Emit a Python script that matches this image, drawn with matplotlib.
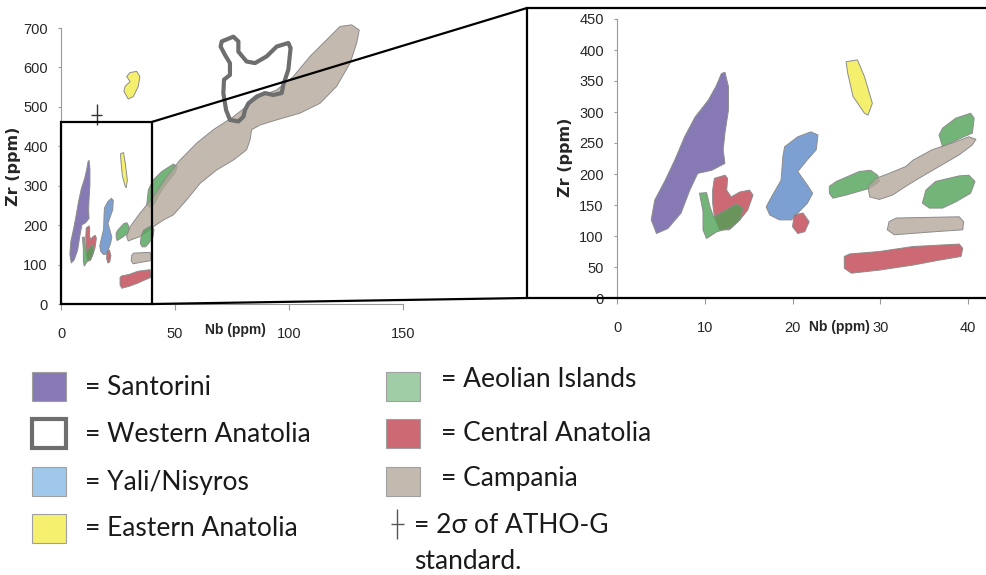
import matplotlib
matplotlib.use('Agg')
import matplotlib.pyplot as plt
from matplotlib.patches import Polygon, Rectangle, ConnectionPatch
from matplotlib.colors import to_rgba

# Outlines, as (Nb ppm, Zr ppm) vertices
santorini = [(4.5, 104), (3.9, 126), (4.3, 158), (5.5, 190), (6.6, 223), (7.7, 260),
             (8.9, 292), (10.4, 319), (11.3, 342), (11.9, 362), (12.3, 364), (12.7, 341),
             (12.7, 303), (12.3, 266), (12.1, 239), (12.3, 217), (10.8, 206), (9.2, 201),
             (8.3, 174), (7.3, 137), (5.8, 112)]
aeolian_a = [(9.4, 169), (10.2, 170), (10.6, 147), (11.0, 131), (13.6, 152), (14.4, 145),
             (14.0, 126), (13.0, 113), (11.4, 107), (10.2, 96), (9.8, 110), (9.8, 140)]
central_a = [(11.1, 193), (12.3, 198), (12.6, 193), (12.5, 174), (13.0, 163), (14.0, 171),
             (15.1, 174), (15.5, 166), (14.9, 142), (14.0, 126), (12.8, 110), (11.7, 110),
             (11.1, 131), (10.9, 153), (10.9, 174)]
yali = [(17.0, 147), (17.6, 163), (18.7, 190), (18.9, 228), (19.1, 244), (20.6, 260),
        (22.1, 268), (22.9, 263), (22.7, 239), (21.7, 223), (20.6, 204), (21.7, 182),
        (22.3, 169), (21.7, 153), (20.6, 137), (19.9, 126), (18.5, 126), (17.4, 134)]
central_b = [(20.2, 134), (21.2, 137), (21.9, 123), (21.4, 107), (20.6, 104), (20.0, 115)]
eastern_a = [(26.1, 381), (27.4, 384), (28.2, 357), (29.1, 314), (28.6, 295), (28.2, 298),
             (26.9, 325), (26.3, 362)]
aeolian_b = [(24.2, 180), (25.0, 188), (27.6, 204), (28.9, 206), (29.7, 198), (29.9, 188),
             (28.8, 177), (26.1, 166), (24.6, 161), (24.2, 169)]
aeolian_c = [(36.7, 263), (37.1, 274), (38.6, 290), (40.3, 298), (40.7, 290), (40.5, 266),
             (39.2, 258), (37.1, 244)]
aeolian_d = [(34.8, 153), (35.2, 174), (36.3, 188), (39.0, 197), (40.1, 198), (40.8, 188),
             (40.3, 169), (38.6, 155), (37.1, 145), (35.6, 145)]
campania_a = [(28.8, 163), (29.9, 159), (31.4, 166), (32.9, 180), (34.4, 193), (36.7, 212),
              (39.0, 231), (40.5, 247), (40.9, 256), (40.1, 260), (38.2, 250), (35.9, 239),
              (33.7, 222), (32.9, 212), (31.0, 201), (29.5, 193), (28.6, 180)]
campania_b = [(31.0, 123), (31.8, 129), (39.0, 131), (39.5, 123), (39.4, 110), (36.3, 107),
              (31.6, 102), (30.8, 110)]
central_c = [(25.9, 67), (26.5, 71), (29.9, 75), (33.7, 83), (39.0, 87), (39.4, 80),
             (39.2, 67), (36.7, 61), (33.7, 53), (29.9, 45), (26.7, 40), (25.9, 48)]

# overview-only outlines (0-150 ppm panel)
campania_wide = [(29.5, 160), (34.6, 171), (40.5, 196), (44.9, 213), (49.3, 226), (55.1, 264),
                 (61.0, 306), (68.3, 340), (75.6, 365), (81.4, 391), (82.9, 416), (83.6, 442),
                 (87.3, 454), (94.6, 467), (104.8, 484), (113.6, 509), (120.9, 552),
                 (126.8, 611), (129.7, 662), (130.8, 695), (127.5, 708), (122.4, 704),
                 (116.5, 670), (109.2, 628), (101.9, 577), (94.6, 543), (87.3, 526),
                 (81.4, 501), (75.6, 475), (66.8, 442), (59.5, 408), (52.2, 365), (46.4, 323),
                 (40.5, 272), (34.6, 230), (30.3, 196), (28.8, 171)]
aeolian_wide = [(37.6, 251), (38.3, 289), (40.5, 315), (44.2, 336), (49.3, 355), (51.0, 349),
                (50.0, 332), (46.4, 306), (43.4, 281), (41.2, 256), (39.0, 245)]
eastern_b = [(28.8, 577), (30.3, 587), (33.2, 590), (34.6, 577), (33.9, 552), (31.7, 526),
             (29.5, 520), (27.6, 539), (28.1, 552), (30.3, 564)]
western_anatolia = [(70.5, 666), (75.6, 678), (77.8, 666), (77.8, 640), (81.4, 615), (85.1, 611),
                    (90.2, 628), (94.6, 653), (99.7, 662), (100.7, 649), (99.7, 594),
                    (97.5, 556), (96.8, 535), (93.1, 530), (89.5, 535), (85.8, 526),
                    (82.2, 509), (80.7, 492), (80.0, 475), (77.8, 463), (74.1, 467),
                    (72.4, 492), (71.2, 535), (71.5, 569), (74.1, 581), (74.1, 611),
                    (71.9, 632), (70.0, 653)]

# 2 sigma of ATHO-G standard
atho_nb, atho_zr = 15.6, 480
atho_nb_err, atho_zr_err = 2.4, 27

# zoom window on the overview
zoom_nb, zoom_zr = 40, 462

region_colors = {
    'Santorini': '#6959a1',
    'Yali/Nisyros': '#5c88c7',
    'Eastern Anatolia': '#f3ec4a',
    'Aeolian Islands': '#50a156',
    'Central Anatolia': '#c14450',
    'Campania': '#b4a89b',
}
legend_colors = {
    'Santorini': '#877ab4',
    'Yali/Nisyros': '#a0c8eb',
    'Eastern Anatolia': '#f5f06e',
    'Aeolian Islands': '#a0cda5',
    'Central Anatolia': '#cd6973',
    'Campania': '#c3b9af',
}

zoom_shapes = [('Santorini', santorini), ('Central Anatolia', central_a),
               ('Aeolian Islands', aeolian_a), ('Yali/Nisyros', yali),
               ('Central Anatolia', central_b), ('Eastern Anatolia', eastern_a),
               ('Aeolian Islands', aeolian_b), ('Aeolian Islands', aeolian_c),
               ('Aeolian Islands', aeolian_d), ('Campania', campania_a),
               ('Campania', campania_b), ('Central Anatolia', central_c)]
overview_shapes = [('Eastern Anatolia', eastern_b), ('Santorini', santorini),
                   ('Central Anatolia', central_a), ('Aeolian Islands', aeolian_a),
                   ('Yali/Nisyros', yali), ('Central Anatolia', central_b),
                   ('Eastern Anatolia', eastern_a), ('Aeolian Islands', aeolian_b),
                   ('Aeolian Islands', aeolian_wide), ('Campania', campania_wide),
                   ('Aeolian Islands', aeolian_d), ('Campania', campania_b),
                   ('Central Anatolia', central_c)]

tick_font = ['Liberation Sans', 'DejaVu Sans']
leg_font = ['Lato', 'DejaVu Sans']
plt.rcParams['font.family'] = tick_font

axis_gray = '#9a9a9a'
text_col = '#262626'
wa_gray = '#6e6e6e'

W, H = 986, 575
fig = plt.figure(figsize=(W / 100, H / 100), dpi=100)


def px_axes(x0, y_top, x1, y_bot):
    return fig.add_axes([x0 / W, 1 - y_bot / H, (x1 - x0) / W, (y_bot - y_top) / H])


ax_leg = px_axes(0, 340, 986, 575)
ax_l = px_axes(61, 28, 403, 304)
ax_r = px_axes(617, 19, 986, 298)


def add_shapes(ax, shapes, clip=True):
    for name, pts in shapes:
        ax.add_patch(Polygon(pts, closed=True, fc=to_rgba(region_colors[name], 0.8),
                             ec='#8c8c8c', lw=0.7, joinstyle='round', clip_on=clip))


def style(ax, xticks, yticks, xpad):
    ax.set_xticks(xticks)
    ax.set_yticks(yticks)
    for s in ['top', 'right']:
        ax.spines[s].set_visible(False)
    for s in ['left', 'bottom']:
        ax.spines[s].set_color(axis_gray)
    ax.tick_params(axis='x', length=4.5, pad=xpad, color=axis_gray, labelcolor=text_col,
                   labelsize=10.5)
    ax.tick_params(axis='y', length=2.5, pad=7, color=axis_gray, labelcolor=text_col,
                   labelsize=10.5)
    ax.patch.set_alpha(0)


# overview panel
add_shapes(ax_l, overview_shapes, clip=False)
ax_l.add_patch(Polygon(western_anatolia, closed=True, fill=False, ec=wa_gray, lw=3,
                       joinstyle='round', zorder=3))
ax_l.errorbar(atho_nb, atho_zr, xerr=atho_nb_err, yerr=atho_zr_err, fmt='none',
              ecolor='#333333', elinewidth=1, capsize=0)
ax_l.add_patch(Rectangle((0, 0), zoom_nb, zoom_zr, fill=False, ec='k', lw=1.6,
                         clip_on=False, zorder=6))
ax_l.set_xlim(0, 150)
ax_l.set_ylim(0, 700)
style(ax_l, [0, 50, 100, 150], range(0, 701, 100), 12)
ax_l.set_xlabel('Nb (ppm)', fontsize=10, fontweight='bold', color=text_col)
ax_l.xaxis.set_label_coords(0.509, -0.068)
ax_l.set_ylabel('Zr (ppm)', fontsize=11.5, fontweight='bold', color=text_col,
                family='DejaVu Sans')
ax_l.yaxis.set_label_coords(-0.116, 0.5)

# zoom panel
add_shapes(ax_r, zoom_shapes)
frame_nb, frame_zr = -10.26, 467.7
ax_r.plot([44, frame_nb, frame_nb, 44], [frame_zr, frame_zr, 0, 0], color='k', lw=1.6,
          clip_on=False, zorder=6, solid_joinstyle='miter')
ax_r.set_xlim(0, 42.05)
ax_r.set_ylim(0, 450)
style(ax_r, [0, 10, 20, 30, 40], range(0, 451, 50), 12)
ax_r.spines['bottom'].set_visible(False)
ax_r.set_xlabel('Nb (ppm)', fontsize=10, fontweight='bold', color=text_col)
ax_r.xaxis.set_label_coords(0.604, -0.08)
ax_r.set_ylabel('Zr (ppm)', fontsize=11.5, fontweight='bold', color=text_col,
                family='DejaVu Sans')
ax_r.yaxis.set_label_coords(-0.118, 0.505)

for ya, yb in [(zoom_zr, frame_zr), (0, 0)]:
    con = ConnectionPatch(xyA=(zoom_nb, ya), coordsA=ax_l.transData,
                          xyB=(frame_nb, yb), coordsB=ax_r.transData,
                          color='k', lw=1.6, zorder=6)
    fig.add_artist(con)

# legend, laid out in pixel units
ax_leg.set_xlim(0, W)
ax_leg.set_ylim(H, 340)
ax_leg.axis('off')

left_items = ['Santorini', 'Western Anatolia', 'Yali/Nisyros', 'Eastern Anatolia']
right_items = ['Aeolian Islands', 'Central Anatolia', 'Campania']
box_tops = [372, 419, 467, 514]
left_text_y = [387, 434, 482, 528]
right_text_y = [379, 433, 478]

for name, top, ty in zip(left_items, box_tops, left_text_y):
    if name == 'Western Anatolia':
        ax_leg.add_patch(Rectangle((32, top), 34, 29, fc='white', ec=wa_gray, lw=3))
    else:
        ax_leg.add_patch(Rectangle((32, top), 34, 29, fc=legend_colors[name],
                                   ec='#a0a0a0', lw=0.8))
    ax_leg.text(85, ty, '= ' + name, fontsize=19, family=leg_font, color='#1a1a1a',
                va='center', ha='left')

for name, top, ty in zip(right_items, box_tops, right_text_y):
    ax_leg.add_patch(Rectangle((386, top), 34, 29, fc=legend_colors[name],
                               ec='#a0a0a0', lw=0.8))
    ax_leg.text(441, ty, '= ' + name, fontsize=19, family=leg_font, color='#1a1a1a',
                va='center', ha='left')

ax_leg.errorbar(397, 524, xerr=6.5, yerr=15, fmt='none', ecolor='#555555',
                elinewidth=1, capsize=0)
ax_leg.text(414, 525, '= 2σ of ATHO-G', fontsize=19, family=leg_font, color='#1a1a1a',
            va='center', ha='left')
ax_leg.text(414, 561, 'standard.', fontsize=19, family=leg_font, color='#1a1a1a',
            va='center', ha='left')

fig.savefig('out.png', dpi=100)
